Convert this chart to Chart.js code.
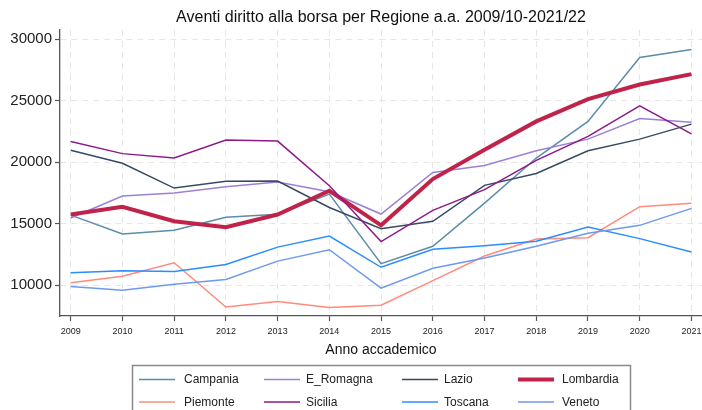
<!DOCTYPE html>
<html>
<head>
<meta charset="utf-8">
<script src="https://cdn.jsdelivr.net/npm/chart.js@4"></script>
<style>
html,body{margin:0;padding:0;background:#fff;overflow:hidden;}
#wrap{width:702px;height:410px;position:relative;}
</style>
</head>
<body>
<div id="wrap"><canvas id="c" width="702" height="410"></canvas></div>
<script>
const years = [2009,2010,2011,2012,2013,2014,2015,2016,2017,2018,2019,2020,2021];
const yTicks = [10000,15000,20000,25000,30000];
const regions = ["Campania","E_Romagna","Lazio","Lombardia","Piemonte","Sicilia","Toscana","Veneto"];
const campania  = [15700,14170,14470,15530,15780,17410,11760,13170,16680,20340,23320,28510,29160];
const eRomagna  = [15470,17250,17490,18000,18390,17600,15790,19170,19740,20930,21880,23560,23260];
const lazio     = [20980,19920,17900,18450,18470,16320,14600,15200,18120,19090,20930,21880,23100];
const lombardia = [15750,16370,15200,14710,15750,17680,14870,18630,21010,23320,25130,26320,27160];
const piemonte  = [10200,10740,11830,8230,8670,8200,8380,10380,12380,13760,13870,16390,16660];
const sicilia   = [21683,20700,20350,21800,21720,18090,13550,16090,17770,20150,22100,24590,22310];
const toscana   = [11010,11180,11120,11690,13100,14000,11460,12920,13220,13570,14740,13790,12710];
const veneto    = [9890,9590,10080,10470,11960,12890,9760,11380,12220,13170,14220,14870,16250];
const title = "Aventi diritto alla borsa per Regione a.a. 2009/10-2021/22";
const xTitle = "Anno accademico";

const series = [campania,eRomagna,lazio,lombardia,piemonte,sicilia,toscana,veneto];
const colors = ['#5b8cab','#9b80d6','#384a62','#c0234a','#ff8b7b','#8b1a8b','#2a8cff','#6c9af0'];
const widths = [1.5,1.5,1.5,4,1.5,1.5,1.5,1.5];

const datasets = regions.map((r,i)=>({
  label:r,
  data: years.map((yr,j)=>({x:yr,y:series[i][j]})),
  borderColor: colors[i],
  backgroundColor: colors[i],
  borderWidth: widths[i],
  pointRadius:0,
  tension:0,
  fill:false,
  order: regions.length - i
}));

const legendPlugin = {
  id:'stataLegend',
  afterDraw(chart){
    const ctx = chart.ctx;
    ctx.save();
    ctx.strokeStyle = '#8a8a8a';
    ctx.lineWidth = 1.5;
    ctx.strokeRect(132.5, 365.5, 498, 60);
    const lineX = [139,264,402,518];
    const textX = [184,306,444,562];
    const rowY = [379.5,402];
    ctx.font = '12px "Liberation Sans", Arial, sans-serif';
    ctx.textBaseline = 'middle';
    ctx.textAlign = 'left';
    chart.data.datasets.forEach((ds,i)=>{
      const col = i % 4, row = Math.floor(i/4);
      ctx.beginPath();
      ctx.strokeStyle = ds.borderColor;
      ctx.lineWidth = ds.borderWidth;
      ctx.moveTo(lineX[col], rowY[row]);
      ctx.lineTo(lineX[col]+36, rowY[row]);
      ctx.stroke();
      ctx.fillStyle = '#222';
      ctx.fillText(ds.label, textX[col], rowY[row]+0.5);
    });
    ctx.restore();
  }
};

new Chart(document.getElementById('c'), {
  type:'line',
  data:{datasets},
  options:{
    responsive:false,
    animation:false,
    layout:{padding:{top:0,right:0,bottom:0,left:0}},
    plugins:{
      legend:{display:false},
      tooltip:{enabled:false},
      title:{
        display:true,
        text:title,
        fullSize:false,
        color:'#111',
        font:{family:'"Liberation Sans", Arial, sans-serif',size:16,weight:'normal'},
        padding:{top:8.4,bottom:2.4}
      }
    },
    scales:{
      x:{
        type:'linear',
        min:2008.793,
        max:2021.204,
        afterBuildTicks:s=>{s.ticks = years.map(v=>({value:v}));},
        afterFit:s=>{s.height = 94; s.paddingLeft = 0; s.paddingRight = 0;},
        grid:{color:'#e6e6e6',lineWidth:1,drawTicks:true,tickLength:5,tickColor:'#555',tickWidth:1.2,tickBorderDash:[]},
        border:{display:true,color:'#555',width:1.3,dash:[6,5]},
        ticks:{
          color:'#222',
          padding:5.6,
          maxRotation:0,
          autoSkip:false,
          font:{family:'"Liberation Sans", Arial, sans-serif',size:9},
          callback:v=>String(v)
        },
        title:{
          display:true,
          text:xTitle,
          color:'#111',
          font:{family:'"Liberation Sans", Arial, sans-serif',size:14},
          padding:{top:0,bottom:51.6}
        }
      },
      y:{
        type:'linear',
        min:7500,
        max:30750,
        afterBuildTicks:s=>{s.ticks = yTicks.map(v=>({value:v}));},
        afterFit:s=>{s.width = 60; s.paddingTop = 0; s.paddingBottom = 0;},
        grid:{color:'#e6e6e6',lineWidth:1,drawTicks:true,tickLength:5,tickColor:'#555',tickWidth:1.2,tickBorderDash:[]},
        border:{display:true,color:'#555',width:1.3,dash:[6,5]},
        ticks:{
          color:'#222',
          padding:3,
          font:{family:'"Liberation Sans", Arial, sans-serif',size:15},
          callback:v=>String(v)
        }
      }
    }
  },
  plugins:[legendPlugin]
});
</script>
</body>
</html>
